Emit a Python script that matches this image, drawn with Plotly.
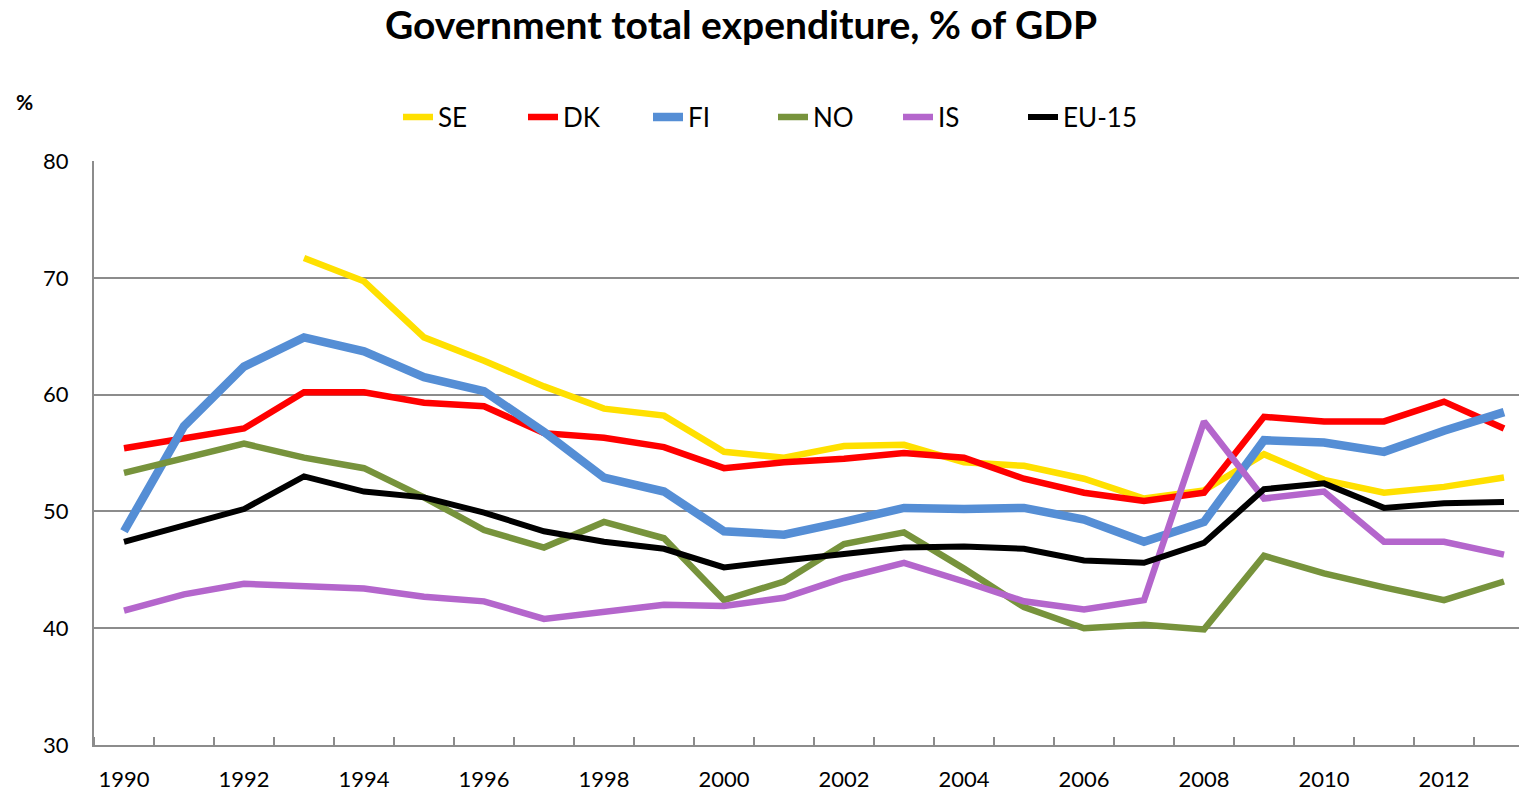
import plotly.graph_objects as go

years = list(range(1990, 2014))

SE = [None, None, None, 71.7, 69.7, 64.9, 62.9, 60.7, 58.8, 58.2, 55.1, 54.6,
      55.6, 55.7, 54.2, 53.9, 52.8, 51.1, 51.8, 54.9, 52.7, 51.6, 52.1, 52.9]
DK = [55.4, 56.2, 57.1, 60.2, 60.2, 59.3, 59.0, 56.7, 56.3, 55.5, 53.7, 54.2,
      54.5, 55.0, 54.6, 52.8, 51.6, 50.9, 51.6, 58.1, 57.7, 57.7, 59.4, 57.1]
FI = [48.3, 57.3, 62.4, 64.9, 63.7, 61.5, 60.3, 56.8, 52.9, 51.7, 48.3, 48.0,
      49.1, 50.3, 50.2, 50.3, 49.3, 47.4, 49.1, 56.1, 55.9, 55.1, 56.9, 58.5]
NO = [53.3, 54.6, 55.8, 54.6, 53.7, 51.2, 48.4, 46.9, 49.1, 47.7, 42.4, 44.0,
      47.2, 48.2, 45.1, 41.8, 40.0, 40.3, 39.9, 46.2, 44.7, 43.5, 42.4, 44.0]
IS = [41.5, 42.9, 43.8, 43.6, 43.4, 42.7, 42.3, 40.8, 41.4, 42.0, 41.9, 42.6,
      44.3, 45.6, 44.0, 42.3, 41.6, 42.4, 57.7, 51.1, 51.7, 47.4, 47.4, 46.3]
EU15 = [47.4, 48.8, 50.2, 53.0, 51.7, 51.2, 49.9, 48.3, 47.4, 46.8, 45.2, 45.8,
        46.4, 46.9, 47.0, 46.8, 45.8, 45.6, 47.3, 51.9, 52.4, 50.3, 50.7, 50.8]

series = [
    ("SE", SE, "#FFE000", 6.5),
    ("DK", DK, "#FF0000", 6.5),
    ("FI", FI, "#558ED5", 8.5),
    ("NO", NO, "#77933C", 6.5),
    ("IS", IS, "#B466CC", 6.5),
    ("EU-15", EU15, "#000000", 6),
]

label_years = list(range(1990, 2013, 2))
boundaries = [y + 0.5 for y in range(1989, 2014)]

FONT = "Lato"
W, H = 1519, 791
L, T, B = 94, 161, 46
PW, PH = W - L, H - T - B

fig = go.Figure()
for name, vals, color, w in series:
    fig.add_trace(go.Scatter(
        x=years, y=vals, name=name, mode="lines",
        line=dict(color=color, width=w, shape="linear"),
        connectgaps=False,
    ))

fig.update_layout(
    width=W, height=H,
    paper_bgcolor="white", plot_bgcolor="white",
    margin=dict(l=L, r=0, t=T, b=B),
    font=dict(family=FONT, color="black", size=22),
    title=dict(text="<b>Government total expenditure, % of GDP</b>",
               x=741 / W, xanchor="center", y=1 - 25 / H, yanchor="middle",
               font=dict(family=FONT, size=39, color="black")),
    legend=dict(orientation="h", x=(404 - 6 - L) / PW, xanchor="left",
                y=1 - 117 / H, yref="container", yanchor="middle",
                font=dict(family=FONT, size=26, color="black"),
                entrywidth=80, entrywidthmode="pixels",
                tracegroupgap=0, bgcolor="rgba(0,0,0,0)"),
    showlegend=True,
)

fig.update_xaxes(
    range=[1989.5, 1989.5 + PW / 60], tickmode="array", tickvals=label_years,
    ticktext=[str(y) for y in label_years], ticks="", showgrid=False,
    showline=True, linecolor="#8c8c8c", linewidth=2, zeroline=False,
    ticklabelstandoff=14, tickfont=dict(family=FONT, size=22, color="black"),
    minor=dict(tickmode="array", tickvals=boundaries, ticks="inside",
               ticklen=8, tickcolor="#8c8c8c", tickwidth=2, showgrid=False),
)
fig.update_yaxes(
    range=[30, 80], tickmode="array", tickvals=[30, 40, 50, 60, 70, 80],
    ticks="", showgrid=True, gridcolor="#8c8c8c", gridwidth=2,
    showline=True, linecolor="#8c8c8c", linewidth=2, zeroline=False,
    ticklabelstandoff=19, tickfont=dict(family=FONT, size=22, color="black"),
)

fig.add_annotation(text="<b>%</b>", x=(24 - L) / PW, y=(H - B - 101) / PH,
                   xref="paper", yref="paper", xanchor="center", yanchor="middle",
                   showarrow=False, font=dict(family=FONT, size=21, color="black"))

fig.write_html("out.html", config={"displayModeBar": False},
               post_script="document.body.style.margin='0';")
